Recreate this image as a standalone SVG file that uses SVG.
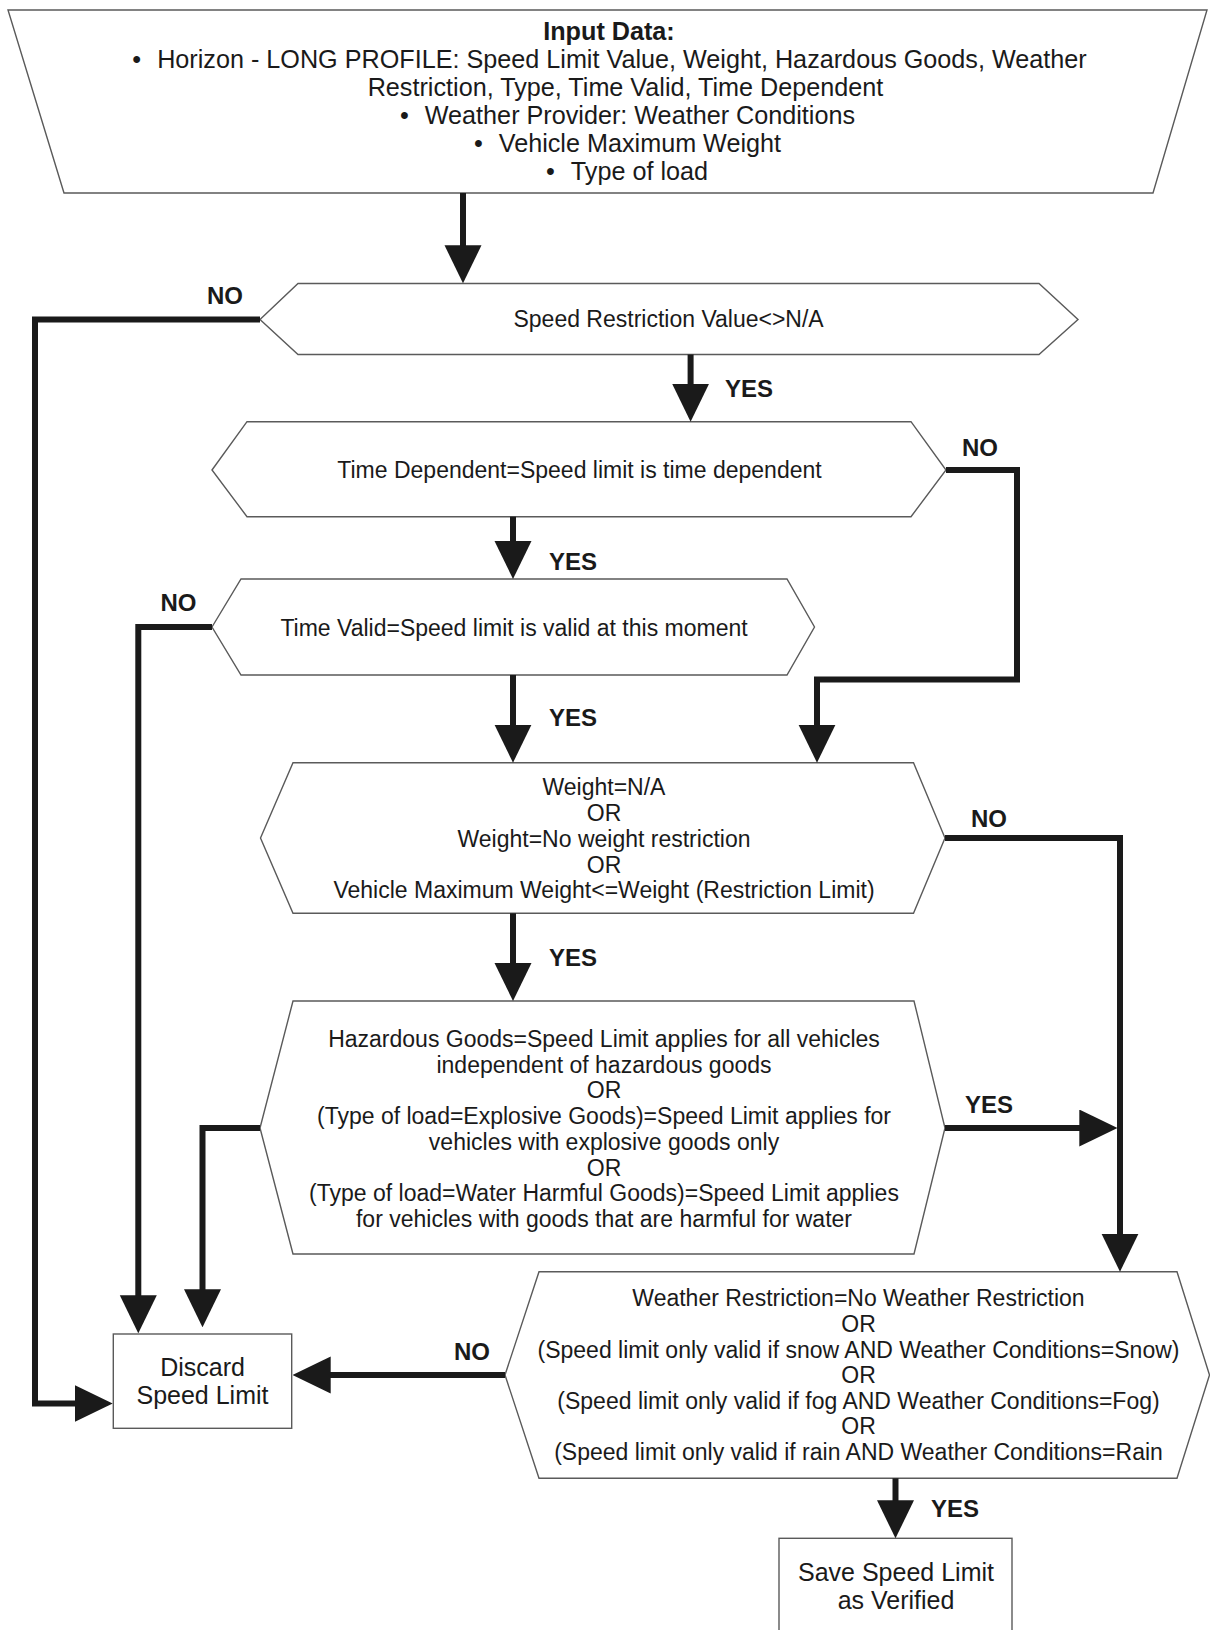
<svg xmlns="http://www.w3.org/2000/svg" width="1210" height="1630" viewBox="0 0 1210 1630">
  <style>
    .shape { fill: #ffffff; stroke: #5a5a5a; stroke-width: 1.4; }
    .txt { font-family: "Liberation Sans", Arial, sans-serif; font-size: 23px; fill: #1a1a1a; text-anchor: middle; }
    .term { font-size: 25px; }
    .in { font-family: "Liberation Sans", Arial, sans-serif; font-size: 25.2px; fill: #1a1a1a; text-anchor: middle; }
    .title { font-weight: bold; }
    .lbl { font-family: "Liberation Sans", Arial, sans-serif; font-size: 24px; font-weight: bold; fill: #1a1a1a; }
    .wire { fill: none; stroke: #1a1a1a; stroke-width: 6; stroke-linejoin: miter; marker-end: url(#head); }
  </style>
  <defs>
    <marker id="head" markerUnits="userSpaceOnUse" markerWidth="38" markerHeight="38" refX="18" refY="18.5" orient="auto">
      <path d="M0,0 L38,18.5 L0,37 Z" fill="#1a1a1a"/>
    </marker>
  </defs>

  <rect width="1210" height="1630" fill="#ffffff"/>

  <!-- Input data trapezoid -->
  <g id="input-data">
    <polygon class="shape" points="8,10 1207,10 1153,193 64,193"/>
    <text class="in title" x="609" y="40">Input Data:</text>
    <text class="in" x="609.5" y="68">•<tspan dx="16">Horizon - LONG PROFILE: Speed Limit Value, Weight, Hazardous Goods, Weather</tspan></text>
    <text class="in" x="625.5" y="96">Restriction, Type, Time Valid, Time Dependent</text>
    <text class="in" x="627.5" y="124">•<tspan dx="16">Weather Provider: Weather Conditions</tspan></text>
    <text class="in" x="627.5" y="152">•<tspan dx="16">Vehicle Maximum Weight</tspan></text>
    <text class="in" x="627" y="180">•<tspan dx="16">Type of load</tspan></text>
  </g>

  <!-- Decision: speed restriction value present -->
  <g id="check-speed-value">
    <polygon class="shape" points="260,319.5 298,283.5 1039,283.5 1078,319.5 1039,354.5 298,354.5"/>
    <text class="txt" x="668.6" y="327">Speed Restriction Value&lt;&gt;N/A</text>
  </g>

  <!-- Decision: time dependent -->
  <g id="check-time-dependent">
    <polygon class="shape" points="212,470 247,421.7 911,421.7 946,470 911,516.7 247,516.7"/>
    <text class="txt" x="579.5" y="478">Time Dependent=Speed limit is time dependent</text>
  </g>

  <!-- Decision: time valid -->
  <g id="check-time-valid">
    <polygon class="shape" points="212,627 241,579 787,579 814.5,627 787,675 241,675"/>
    <text class="txt" x="514" y="636">Time Valid=Speed limit is valid at this moment</text>
  </g>

  <!-- Decision: weight -->
  <g id="check-weight">
    <polygon class="shape" points="260.5,838 293,762.7 913.5,762.7 945,838 913.5,913.3 293,913.3"/>
    <text class="txt" x="604" y="795">Weight=N/A</text>
    <text class="txt" x="604" y="821">OR</text>
    <text class="txt" x="604" y="847">Weight=No weight restriction</text>
    <text class="txt" x="604" y="872.5">OR</text>
    <text class="txt" x="604" y="898">Vehicle Maximum Weight&lt;=Weight (Restriction Limit)</text>
  </g>

  <!-- Decision: hazardous goods / type of load -->
  <g id="check-hazardous">
    <polygon class="shape" points="260,1128 293,1001 914,1001 945,1128 914,1254 293,1254"/>
    <text class="txt" x="604" y="1047">Hazardous Goods=Speed Limit applies for all vehicles</text>
    <text class="txt" x="604" y="1072.5">independent of hazardous goods</text>
    <text class="txt" x="604" y="1098">OR</text>
    <text class="txt" x="604" y="1124">(Type of load=Explosive Goods)=Speed Limit applies for</text>
    <text class="txt" x="604" y="1150">vehicles with explosive goods only</text>
    <text class="txt" x="604" y="1175.5">OR</text>
    <text class="txt" x="604" y="1201">(Type of load=Water Harmful Goods)=Speed Limit applies</text>
    <text class="txt" x="604" y="1227">for vehicles with goods that are harmful for water</text>
  </g>

  <!-- Decision: weather restriction -->
  <g id="check-weather">
    <polygon class="shape" points="505,1375 539,1271.7 1177,1271.7 1209.5,1375 1177,1478.3 539,1478.3"/>
    <text class="txt" x="858.5" y="1306">Weather Restriction=No Weather Restriction</text>
    <text class="txt" x="858.5" y="1332">OR</text>
    <text class="txt" x="858.5" y="1357.5">(Speed limit only valid if snow AND Weather Conditions=Snow)</text>
    <text class="txt" x="858.5" y="1383">OR</text>
    <text class="txt" x="858.5" y="1408.7">(Speed limit only valid if fog AND Weather Conditions=Fog)</text>
    <text class="txt" x="858.5" y="1434.4">OR</text>
    <text class="txt" x="858.5" y="1460">(Speed limit only valid if rain AND Weather Conditions=Rain</text>
  </g>

  <!-- Terminal: discard -->
  <g id="discard">
    <rect class="shape" x="113.3" y="1334" width="178.4" height="94.3"/>
    <text class="txt term" x="202.5" y="1376">Discard</text>
    <text class="txt term" x="202.5" y="1404">Speed Limit</text>
  </g>

  <!-- Terminal: save -->
  <g id="save">
    <rect class="shape" x="779" y="1538.3" width="233" height="110"/>
    <text class="txt term" x="896" y="1581">Save Speed Limit</text>
    <text class="txt term" x="896" y="1609">as Verified</text>
  </g>

  <!-- Connectors (each path ends 20px short of the arrow tip) -->
  <g id="connectors">
    <path class="wire" d="M463,193 V263.3"/>
    <path class="wire" d="M260,319.5 H35 V1403.5 H92.7"/>
    <path class="wire" d="M690.6,354.5 V401.7"/>
    <path class="wire" d="M946,470 H1017 V679.5 H817 V742.7"/>
    <path class="wire" d="M513,516.7 V559"/>
    <path class="wire" d="M212,627 H138.3 V1313.3"/>
    <path class="wire" d="M513,675 V742.7"/>
    <path class="wire" d="M945,838 H1120 V1251.7"/>
    <path class="wire" d="M513,913.3 V981"/>
    <path class="wire" d="M260,1128 H202.5 V1307.3"/>
    <path class="wire" d="M945,1128 H1097.3"/>
    <path class="wire" d="M505,1375 H312.7"/>
    <path class="wire" d="M895.5,1478.3 V1518.3"/>
  </g>

  <!-- Branch labels -->
  <g id="labels">
    <text class="lbl" x="207" y="304">NO</text>
    <text class="lbl" x="725" y="397">YES</text>
    <text class="lbl" x="962" y="456">NO</text>
    <text class="lbl" x="549" y="570">YES</text>
    <text class="lbl" x="160.5" y="611">NO</text>
    <text class="lbl" x="549" y="726">YES</text>
    <text class="lbl" x="971" y="827">NO</text>
    <text class="lbl" x="549" y="965.5">YES</text>
    <text class="lbl" x="965" y="1112.5">YES</text>
    <text class="lbl" x="454" y="1360">NO</text>
    <text class="lbl" x="931" y="1517">YES</text>
  </g>
</svg>
